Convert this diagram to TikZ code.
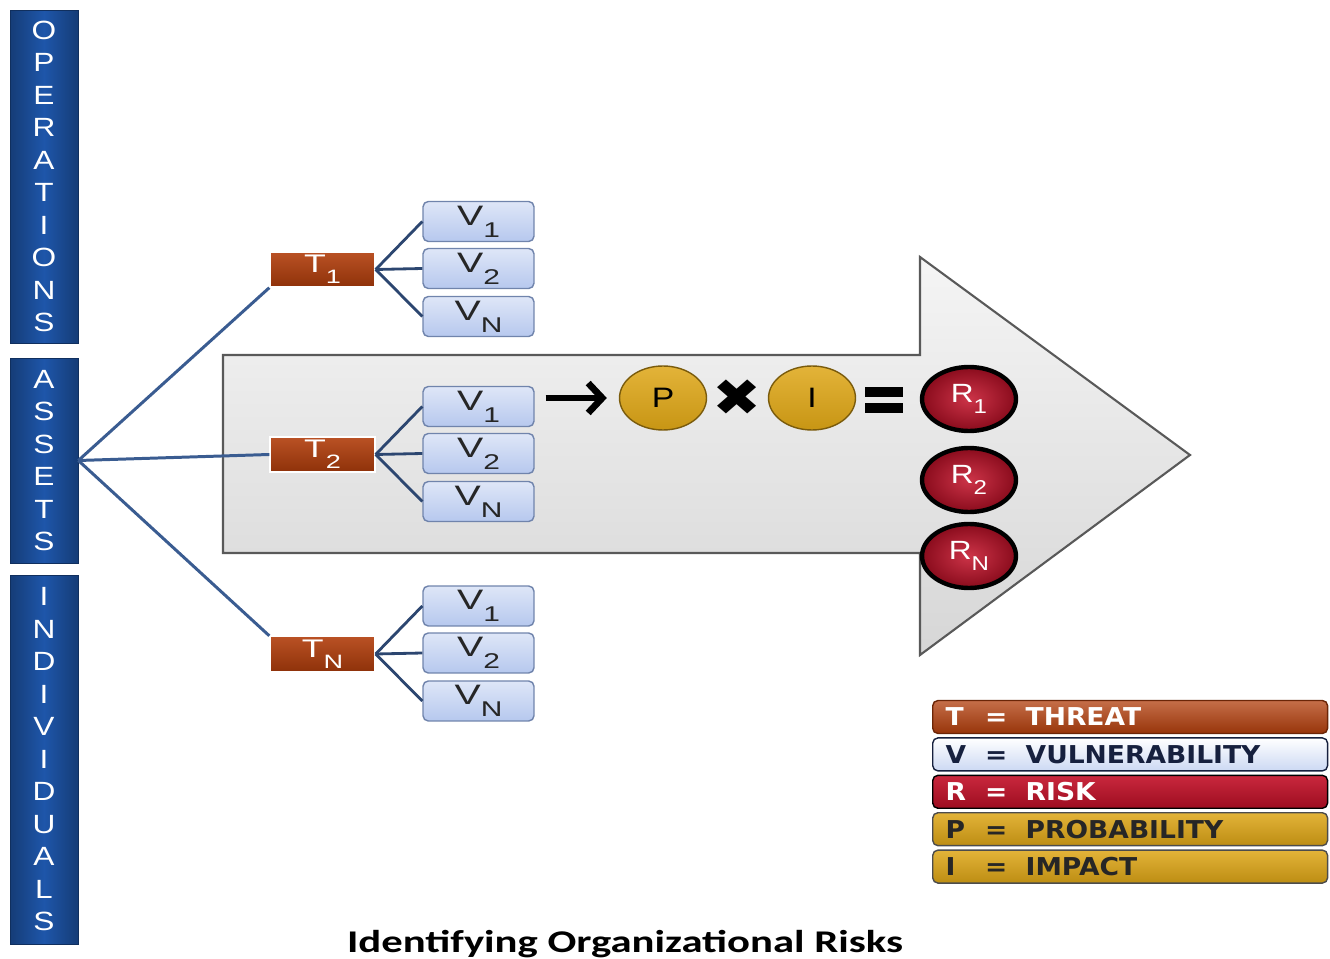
\documentclass[tikz,border=0pt]{standalone}
\usepackage{fontspec}
\setmainfont{Liberation Sans}
\newfontfamily\colfont{Liberation Sans}[FakeStretch=1.2]
\newfontfamily\boxfont{Liberation Sans}[FakeStretch=1.4]
\newfontfamily\legendfont{DejaVu Sans}[FakeStretch=1.08]
\newfontfamily\capfont{Carlito}[FakeStretch=1.35]
\newfontfamily\symfont{DejaVu Sans}[FakeStretch=1.15]
\usepackage{xcolor}
\definecolor{opsblue}{RGB}{30,86,170}
\definecolor{throrange}{RGB}{178,62,12}
\definecolor{vulnblue}{RGB}{182,200,238}
\definecolor{vulnedge}{RGB}{112,132,172}
\definecolor{riskred}{RGB}{196,16,40}
\definecolor{probgold}{RGB}{222,166,22}
\definecolor{linkblue}{RGB}{58,92,145}
\definecolor{forkblue}{RGB}{44,70,112}
\definecolor{navy}{RGB}{22,32,62}
\usepackage{tikz}
\usetikzlibrary{positioning, shapes.geometric, arrows.meta}
\newcommand{\subidx}[1]{\raisebox{-0.42em}{\scalebox{0.76}{#1}}}
\newcommand{\legendrow}[2]{\makebox[0.7cm][l]{#1}\makebox[0.62cm][c]{=}\hspace{0.28cm}#2}
\tikzstyle{bar} = [
    rectangle, align=center,
    text width=1.36cm, inner sep=0pt,
    left color=opsblue!70!black,
    right color=opsblue!70!black,
    middle color=opsblue,
    draw=opsblue!55!black,
    text=white,
    font=\colfont\fontsize{15}{18.5}\selectfont,
]
\tikzstyle{box} = [
    rectangle, text centered,
    inner sep=0pt,
    thick,
]
\tikzstyle{threat} = [
    box,
    minimum width=2.1cm,
    minimum height=0.7cm,
    top color=throrange!90!white,
    bottom color=throrange!80!black,
    draw=white,
    text=white,
    font=\boxfont\fontsize{14.5}{14.5}\selectfont,
]
\tikzstyle{vuln} = [
    box,
    rounded corners=3pt,
    minimum width=2.22cm,
    minimum height=0.8cm,
    top color=vulnblue!45!white,
    bottom color=vulnblue,
    draw=vulnedge,
    text=black!85,
    font=\boxfont\fontsize{16}{16}\selectfont,
]
\tikzstyle{factor} = [
    ellipse, inner sep=0pt,
    minimum width=1.74cm,
    minimum height=1.28cm,
    top color=probgold!85!white,
    bottom color=probgold!90!black,
    draw=probgold!55!black,
    thick,
    font=\colfont\fontsize{16}{16}\selectfont,
]
\tikzstyle{risk} = [
    ellipse, inner sep=0pt,
    minimum width=1.88cm,
    minimum height=1.28cm,
    inner color=riskred!85!white,
    outer color=riskred!70!black,
    draw=black,
    line width=2.5pt,
    text=white,
    font=\colfont\fontsize{15}{15}\selectfont,
]
\tikzstyle{bigarrow} = [
    top color=gray!8,
    bottom color=gray!32,
    draw=black!65,
    line width=1.2pt,
]
\tikzstyle{legend} = [
    rectangle, rounded corners=3pt,
    anchor=west, align=left,
    text width=7.38cm,
    inner xsep=0.26cm, inner ysep=0pt,
    minimum height=0.66cm,
    thick,
    font=\legendfont\bfseries\fontsize{14}{14}\selectfont,
]
\tikzstyle{link} = [draw=linkblue, line width=1.7pt]
\tikzstyle{fork} = [draw=forkblue, line width=1.6pt]
\tikzstyle{arrow} = [-{Straight Barb[length=8pt,width=17pt]}, line width=3.8pt]

\begin{document}
\begin{tikzpicture}[x=0.02cm, y=-0.02cm]
    \useasboundingbox (0,0) rectangle (1330,959);

    % big arrow
    \draw [bigarrow] (223,355) -- (920,355) -- (920,257) -- (1190,455)
        -- (920,655) -- (920,553) -- (223,553) -- cycle;

    % columns
    \node (ops) at (44,176.5) [bar, minimum height=6.66cm] {O\\P\\E\\R\\A\\T\\I\\O\\N\\S};
    \node (assets) at (44,460.5) [bar, minimum height=4.1cm] {A\\S\\S\\E\\T\\S};
    \node (indiv) at (44,759.5) [bar, minimum height=7.38cm] {I\\N\\D\\I\\V\\I\\D\\U\\A\\L\\S};

    % threats and vulnerabilities
    \foreach \t/\y/\lab in {1/269.5/1, 2/454.5/2, 3/654/N} {
        \node (t\t) at (322.5,\y) [threat] {T\subidx{\lab}};
        \foreach \v/\dy/\vl in {1/-48/1, 2/-1/2, 3/47/N} {
            \pgfmathsetmacro{\vy}{\y+\dy}
            \node (v\t\v) at (478.5,\vy) [vuln] {V\subidx{\vl}};
            \draw [fork] (t\t.east) -- (v\t\v.west);
        }
    }
    \draw [link] (assets.east) -- (t1.south west);
    \draw [link] (assets.east) -- (t2.west);
    \draw [link] (assets.east) -- (t3.north west);

    % equation
    \node (p) at (663,398) [factor] {P};
    \node (times) at (737,398) [font=\symfont\fontsize{29}{29}\selectfont] {✖};
    \node (i) at (812,398) [factor] {I};
    \fill [black] (865,387) rectangle (903,397);
    \fill [black] (865,403) rectangle (903,413);
    \draw [arrow, shorten <=0.22cm, shorten >=0.24cm] (v21.east |- p.west) -- (p.west);

    % risks
    \foreach \r/\y/\lab in {1/399/1, 2/480/2, 3/556/N} {
        \node (r\r) at (969,\y) [risk] {R\subidx{\lab}};
    }

    % legend
    \foreach \key/\word/\topc/\botc/\edge/\ink [count=\i] in {
        T/THREAT/throrange!75!white/throrange!85!black/throrange!60!black/white,
        V/VULNERABILITY/white/vulnblue!70/navy/navy,
        R/RISK/riskred!90!white/riskred!80!black/black/white,
        P/PROBABILITY/probgold!85!white/probgold!85!black/black!70/black!85,
        I/IMPACT/probgold!85!white/probgold!85!black/black!70/black!85} {
        \node (key\i) at (932,{717+37.4*(\i-1)}) [legend, top color=\topc,
            bottom color=\botc, draw=\edge, text=\ink] {\legendrow{\key}{\word}};
    }

    % caption
    \node (caption) at (625,952) [anchor=base, font=\capfont\bfseries\fontsize{18}{18}\selectfont] {Identifying Organizational Risks};

\end{tikzpicture}
\end{document}
